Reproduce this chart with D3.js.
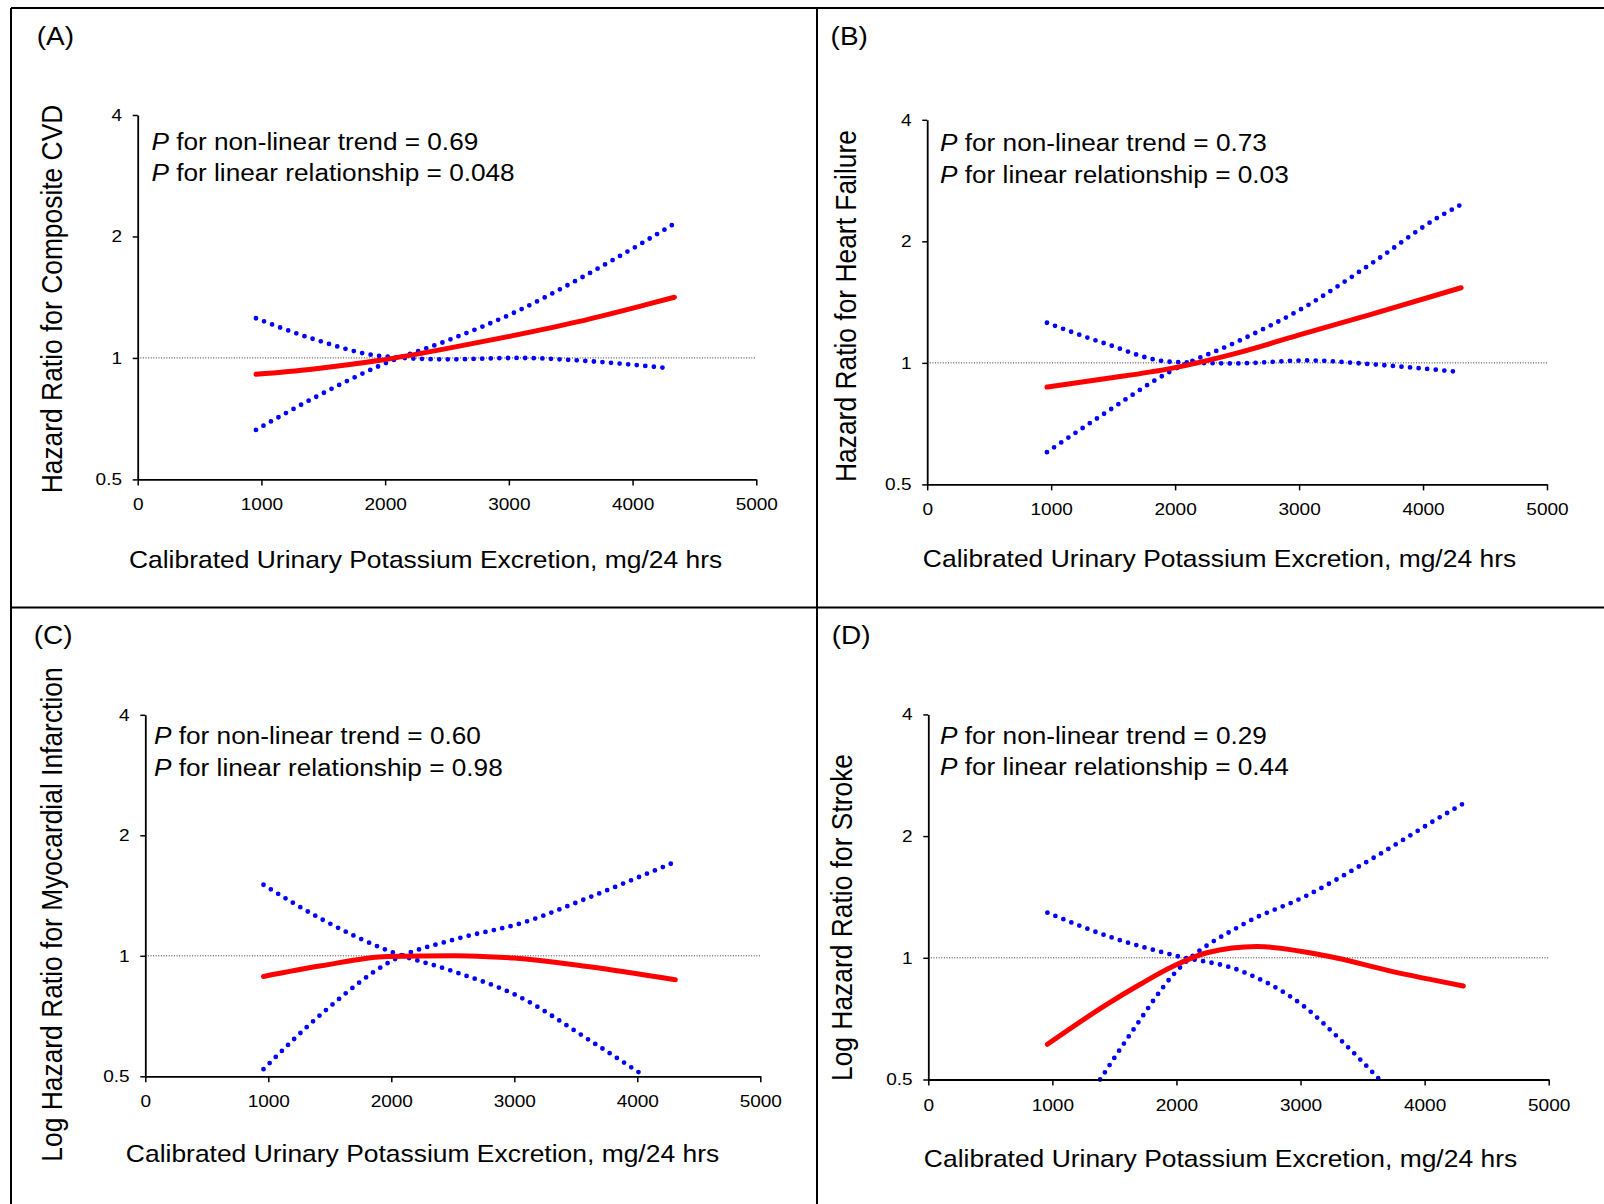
<!DOCTYPE html>
<html>
<head>
<meta charset="utf-8">
<script src="https://cdn.jsdelivr.net/npm/d3@7"></script>
<style>
  body { margin: 0; background: #fff; }
  text { font-family: "Liberation Sans", Arial, sans-serif; fill: #000; }
</style>
</head>
<body>
<div id="chart"></div>
<script>
// values: [urinary potassium mg/24h, hazard ratio]
var estA = [[956, 0.911], [1407, 0.938], [1945, 0.985], [2484, 1.053], [3023, 1.134], [3562, 1.23], [4101, 1.353], [4338, 1.414]];
var ciA1 = [[956, 1.254], [1420, 1.114], [1972, 1.01], [2505, 0.992], [3076, 1.0], [3578, 0.985], [4290, 0.943]];
var ciA2 = [[956, 0.663], [1428, 0.797], [1972, 0.961], [2516, 1.108], [3050, 1.298], [3578, 1.576], [4101, 1.946], [4325, 2.14]];

var estB = [[966, 0.871], [1431, 0.913], [1969, 0.969], [2506, 1.059], [3044, 1.183], [3581, 1.319], [4307, 1.535]];
var ciB1 = [[966, 1.257], [1423, 1.12], [1963, 1.006], [2492, 0.997], [3059, 1.014], [3621, 0.99], [4300, 0.949]];
var ciB2 = [[966, 0.601], [1418, 0.745], [1963, 0.953], [2500, 1.128], [3035, 1.369], [3586, 1.764], [4126, 2.297], [4300, 2.46]];

var estC = [[961, 0.888], [1430, 0.944], [1971, 0.996], [2513, 1.0], [2783, 0.995], [3000, 0.987], [3596, 0.94], [4309, 0.871]];
var ciC1 = [[961, 1.505], [1443, 1.23], [1992, 1.025], [2501, 0.915], [3027, 0.794], [3609, 0.616], [4061, 0.5]];
var ciC2 = [[961, 0.521], [1455, 0.726], [2008, 0.973], [2525, 1.101], [3075, 1.211], [3608, 1.399], [4136, 1.631], [4298, 1.711]];

var estD = [[960, 0.611], [1439, 0.767], [1708, 0.86], [1977, 0.954], [2246, 1.029], [2650, 1.066], [3215, 1.01], [3726, 0.927], [4312, 0.852]];
var ciD1 = [[960, 1.293], [1484, 1.121], [1982, 1.014], [2523, 0.927], [3026, 0.759], [3338, 0.62], [3636, 0.5]];
var ciD2 = [[1385, 0.5], [1632, 0.65], [1977, 0.91], [2537, 1.21], [3040, 1.42], [3619, 1.79], [4151, 2.253], [4312, 2.407]];

var xTicks = [0, 1000, 2000, 3000, 4000, 5000];
var yTicks = [0.5, 1, 2, 4];

var panelLabels = ["(A)", "(B)", "(C)", "(D)"];
var yTitles = [
  "Hazard Ratio for Composite CVD",
  "Hazard Ratio for Heart Failure",
  "Log Hazard Ratio for Myocardial Infarction",
  "Log Hazard Ratio for Stroke"
];
var xTitle = "Calibrated Urinary Potassium Excretion, mg/24 hrs";
var pNonLinear = ["0.69", "0.73", "0.60", "0.29"];
var pLinear = ["0.048", "0.03", "0.98", "0.44"];

// the original figure is stretched sideways, so text gets the same stretch
var sx = 1.12;

// where each panel sits on the page
var layout = [
  { left: 137.7, right: 756.3, top: 115, bottom: 479.4, lab: [36.7, 45], yt: [62, 299], xt: [425.6, 568], p: [151.4, 149.5, 181] },
  { left: 927.2, right: 1547, top: 119.8, bottom: 484.4, lab: [830.6, 45], yt: [856, 306], xt: [1219.5, 567], p: [940, 150.5, 182.5] },
  { left: 145.3, right: 760.3, top: 714.8, bottom: 1076.3, lab: [33.7, 644], yt: [61.5, 914.5], xt: [422.5, 1162], p: [154, 744, 776] },
  { left: 928.3, right: 1548.7, top: 714.4, bottom: 1079.5, lab: [831.7, 644], yt: [852, 917.5], xt: [1220.5, 1167], p: [940, 744, 775] }
];

var series = [
  [estA, ciA1, ciA2],
  [estB, ciB1, ciB2],
  [estC, ciC1, ciC2],
  [estD, ciD1, ciD2]
];

var svgWidth = 1604;
var svgHeight = 1204;

var svg = d3
  .select("#chart")
  .append("svg")
  .attr("width", svgWidth)
  .attr("height", svgHeight)
  .style("display", "block");

svg.append("rect").attr("width", svgWidth).attr("height", svgHeight).attr("fill", "#fff");

// panel frame
var frame = svg.append("g").attr("stroke", "#000").attr("stroke-width", 2);
frame.append("line").attr("x1", 11).attr("x2", svgWidth).attr("y1", 8).attr("y2", 8);
frame.append("line").attr("x1", 11).attr("x2", 11).attr("y1", 8).attr("y2", svgHeight);
frame.append("line").attr("x1", 817).attr("x2", 817).attr("y1", 8).attr("y2", svgHeight);
frame.append("line").attr("x1", 11).attr("x2", svgWidth).attr("y1", 607.5).attr("y2", 607.5);

function drawPanel(i) {
  var L = layout[i];

  var xScale = d3.scaleLinear().domain([0, 5000]).range([L.left, L.right]);
  var yScale = d3.scaleLog().base(2).domain([0.5, 4]).range([L.bottom, L.top]);

  var g = svg.append("g");

  // reference line at HR = 1
  g.append("line")
    .attr("x1", xScale(0))
    .attr("x2", xScale(5000))
    .attr("y1", yScale(1))
    .attr("y2", yScale(1))
    .attr("stroke", "#333")
    .attr("stroke-width", 1)
    .attr("stroke-dasharray", "1 1.6");

  var line = d3
    .line()
    .x((d) => xScale(d[0]))
    .y((d) => yScale(d[1]))
    .curve(d3.curveMonotoneX);

  // confidence limits, blue dots
  [series[i][1], series[i][2]].forEach(function (ci) {
    g.append("path")
      .datum(ci)
      .attr("d", line)
      .attr("fill", "none")
      .attr("stroke", "#0000ff")
      .attr("stroke-width", 4.8)
      .attr("stroke-linecap", "round")
      .attr("stroke-dasharray", "0 8.6");
  });

  // estimate, red
  g.append("path")
    .datum(series[i][0])
    .attr("d", line)
    .attr("fill", "none")
    .attr("stroke", "#ff0000")
    .attr("stroke-width", 5)
    .attr("stroke-linecap", "round");

  // axes
  var bottomAxis = d3.axisBottom(xScale).tickValues(xTicks).tickFormat(d3.format("d")).tickSize(6).tickSizeOuter(0).tickPadding(13);
  var leftAxis = d3.axisLeft(yScale).tickValues(yTicks).tickFormat((d) => String(d)).tickSize(5).tickSizeOuter(0).tickPadding(9);

  var xAxis = g.append("g").attr("transform", `translate(0, ${L.bottom})`).call(bottomAxis);
  var yAxis = g.append("g").attr("transform", `translate(${L.left}, 0)`).call(leftAxis);

  [xAxis, yAxis].forEach(function (ax) {
    ax.select(".domain").attr("stroke", "#000").attr("stroke-width", 1.8);
    ax.selectAll(".tick line").attr("stroke", "#000").attr("stroke-width", 1.5);
    ax.selectAll(".tick text")
      .attr("transform", `scale(${sx},1)`)
      .style("font-family", '"Liberation Sans", Arial, sans-serif')
      .style("font-size", "17px")
      .attr("fill", "#000");
  });

  // panel letter
  g.append("text")
    .attr("transform", `translate(${L.lab[0]}, ${L.lab[1]}) scale(${sx},1)`)
    .style("font-size", "25px")
    .text(panelLabels[i]);

  // y title
  g.append("text")
    .attr("transform", `translate(${L.yt[0]}, ${L.yt[1]}) scale(${sx},1) rotate(-90)`)
    .attr("text-anchor", "middle")
    .style("font-size", "26.4px")
    .text(yTitles[i]);

  // x title
  g.append("text")
    .attr("transform", `translate(${L.xt[0]}, ${L.xt[1]}) scale(${sx},1)`)
    .attr("text-anchor", "middle")
    .style("font-size", "23.6px")
    .text(xTitle);

  // P values
  var lines = [" for non-linear trend = " + pNonLinear[i], " for linear relationship = " + pLinear[i]];
  lines.forEach(function (t, k) {
    var txt = g.append("text")
      .attr("transform", `translate(${L.p[0]}, ${L.p[k + 1]}) scale(${sx},1)`)
      .style("font-size", "23.4px");
    txt.append("tspan").style("font-style", "italic").text("P");
    txt.append("tspan").text(t);
  });
}

for (var i = 0; i < 4; i++) {
  drawPanel(i);
}
</script>
</body>
</html>
